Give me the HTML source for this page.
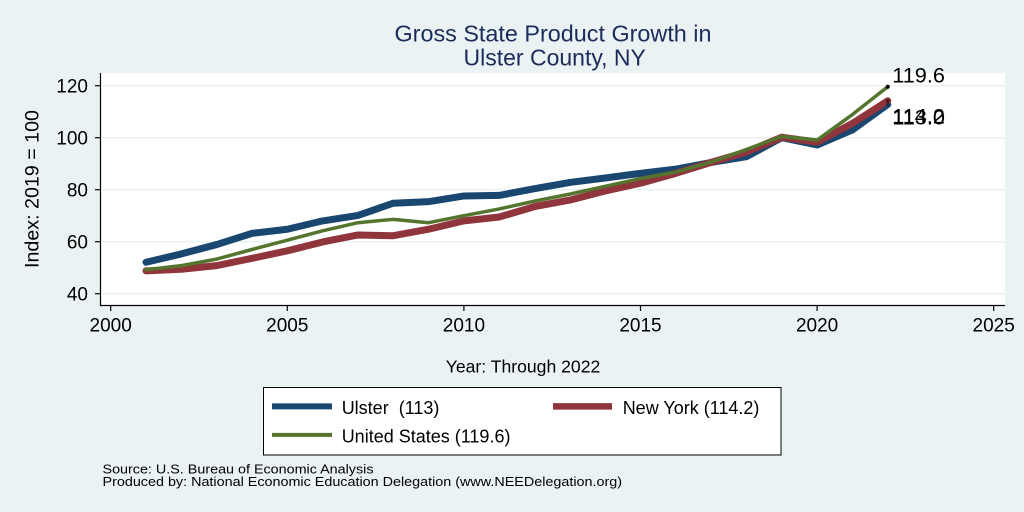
<!DOCTYPE html>
<html><head><meta charset="utf-8"><style>
html,body{margin:0;padding:0;background:#eaf2f3;}
svg{display:block;font-family:"Liberation Sans",Arial,sans-serif;}
</style></head><body>
<svg width="1024" height="512" viewBox="0 0 1024 512" xmlns="http://www.w3.org/2000/svg">
<rect x="0" y="0" width="1024" height="512" fill="#eaf2f3"/>
<!-- title -->
<text x="553" y="41.7" font-size="23" fill="#1c2b59" text-anchor="middle" textLength="317" lengthAdjust="spacingAndGlyphs">Gross State Product Growth in</text>
<text x="554.7" y="65.7" font-size="23" fill="#1c2b59" text-anchor="middle">Ulster County, NY</text>
<!-- plot area -->
<rect x="100.5" y="73" width="904.5" height="232" fill="#ffffff"/>
<g stroke="#eaf2f3" stroke-width="1.6">
<line x1="101" y1="85.7" x2="1005" y2="85.7"/>
<line x1="101" y1="137.7" x2="1005" y2="137.7"/>
<line x1="101" y1="189.7" x2="1005" y2="189.7"/>
<line x1="101" y1="241.7" x2="1005" y2="241.7"/>
<line x1="101" y1="293.7" x2="1005" y2="293.7"/>
</g>
<!-- axes -->
<g stroke="#000" stroke-width="1.2" fill="none">
<line x1="100.5" y1="73" x2="100.5" y2="305.5"/>
<line x1="100" y1="305.5" x2="1005" y2="305.5"/>
<line x1="95" y1="85.7" x2="100.5" y2="85.7"/>
<line x1="95" y1="137.7" x2="100.5" y2="137.7"/>
<line x1="95" y1="189.7" x2="100.5" y2="189.7"/>
<line x1="95" y1="241.7" x2="100.5" y2="241.7"/>
<line x1="95" y1="293.7" x2="100.5" y2="293.7"/>
<line x1="110.7" y1="305.5" x2="110.7" y2="311"/>
<line x1="287.3" y1="305.5" x2="287.3" y2="311"/>
<line x1="463.9" y1="305.5" x2="463.9" y2="311"/>
<line x1="640.5" y1="305.5" x2="640.5" y2="311"/>
<line x1="817.1" y1="305.5" x2="817.1" y2="311"/>
<line x1="993.7" y1="305.5" x2="993.7" y2="311"/>
</g>
<g font-size="19" fill="#000" text-anchor="end">
<text x="88" y="92.6">120</text>
<text x="88" y="144.6">100</text>
<text x="88" y="196.6">80</text>
<text x="88" y="248.6">60</text>
<text x="88" y="300.6">40</text>
</g>
<g font-size="19" fill="#000" text-anchor="middle">
<text x="110.7" y="331.5">2000</text>
<text x="287.3" y="331.5">2005</text>
<text x="463.9" y="331.5">2010</text>
<text x="640.5" y="331.5">2015</text>
<text x="817.1" y="331.5">2020</text>
<text x="993.7" y="331.5">2025</text>
</g>
<text x="523" y="372.5" font-size="17.6" text-anchor="middle" fill="#000">Year: Through 2022</text>
<text transform="translate(38.5,189) rotate(-90)" font-size="19.5" text-anchor="middle" fill="#000" textLength="158" lengthAdjust="spacingAndGlyphs">Index: 2019 = 100</text>
<!-- series -->
<g fill="none" stroke-linejoin="round" stroke-linecap="round">
<polyline stroke="#1a476f" stroke-width="7" points="146.02,262.24 181.34,253.92 216.66,244.56 251.98,233.38 287.3,229.22 322.62,220.9 357.94,215.44 393.26,203.22 428.58,201.66 463.9,195.94 499.22,195.42 534.54,188.66 569.86,182.42 605.18,178.0 640.5,173.32 675.82,169.16 711.14,162.4 746.46,156.68 781.78,137.7 817.1,144.98 852.42,129.9 887.74,104.42"/>
<polyline stroke="#90353b" stroke-width="7" points="146.02,270.82 181.34,269.26 216.66,265.62 251.98,258.34 287.3,250.8 322.62,241.96 357.94,234.94 393.26,235.72 428.58,229.22 463.9,220.9 499.22,217.0 534.54,206.6 569.86,200.1 605.18,191.0 640.5,183.2 675.82,173.32 711.14,162.4 746.46,152.0 781.78,137.18 817.1,142.12 852.42,123.4 887.74,100.78"/>
<polyline stroke="#55752f" stroke-width="3.5" points="146.02,269.78 181.34,265.62 216.66,259.12 251.98,249.5 287.3,240.14 322.62,230.78 357.94,222.72 393.26,219.34 428.58,222.72 463.9,215.7 499.22,208.94 534.54,201.14 569.86,194.12 605.18,186.32 640.5,178.52 675.82,172.02 711.14,162.14 746.46,149.4 781.78,136.4 817.1,140.04 852.42,114.56 887.74,86.74"/>
</g>
<circle cx="887.74" cy="104.42" r="1.6" fill="#0e2a44"/>
<circle cx="887.74" cy="100.78" r="1.6" fill="#3a1518"/>
<circle cx="887.74" cy="86.74" r="2" fill="#000"/>
<g font-size="21.7" fill="#000">
<text x="892.3" y="82.7">119.6</text>
<text x="892.3" y="123.3">114.2</text>
<text x="892.3" y="124.5">113.0</text>
</g>
<!-- legend -->
<rect x="263.5" y="387.5" width="517.5" height="67.5" fill="#fff" stroke="#000" stroke-width="1"/>
<line x1="272" y1="406.4" x2="332" y2="406.4" stroke="#1a476f" stroke-width="6"/>
<line x1="553" y1="406.4" x2="612" y2="406.4" stroke="#90353b" stroke-width="6.5"/>
<line x1="272" y1="434.9" x2="332" y2="434.9" stroke="#55752f" stroke-width="4"/>
<g font-size="18" fill="#000">
<text x="341.7" y="414">Ulster&#160; (113)</text>
<text x="622.7" y="414">New York (114.2)</text>
<text x="341.7" y="442.7">United States (119.6)</text>
</g>
<!-- notes -->
<g font-size="13.2" fill="#000">
<text x="102.5" y="473.7" textLength="271" lengthAdjust="spacingAndGlyphs">Source: U.S. Bureau of Economic Analysis</text>
<text x="102.5" y="486" textLength="519.5" lengthAdjust="spacingAndGlyphs">Produced by: National Economic Education Delegation (www.NEEDelegation.org)</text>
</g>
</svg>
</body></html>
